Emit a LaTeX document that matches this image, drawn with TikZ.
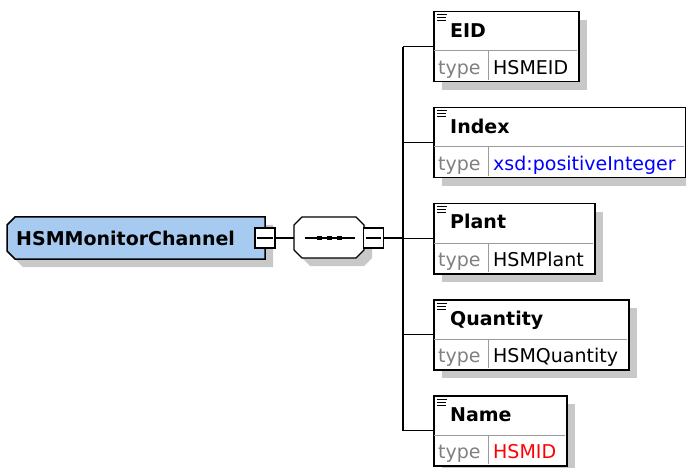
\documentclass[tikz,border=0pt]{standalone}
\usepackage{fontspec}
\setmainfont{DejaVu Sans}
\usetikzlibrary{shadows}
\definecolor{rootblue}{RGB}{166,202,240}
\definecolor{shadowgray}{RGB}{200,200,200}
\definecolor{rulegray}{RGB}{155,155,155}
\definecolor{typegray}{RGB}{128,128,128}
\definecolor{typeblue}{RGB}{0,0,255}
\definecolor{typered}{RGB}{255,0,0}
\tikzset{
  dropsh/.style={drop shadow={shadow xshift=8pt,shadow yshift=-8pt,fill=shadowgray,opacity=1}},
  elembox/.style={draw,line width=1.5pt,fill=white,anchor=north west,minimum height=70pt,inner sep=0pt,dropsh},
  minusbox/.style={draw,line width=1.2pt,fill=white,minimum size=20pt,inner sep=0pt},
  eltext/.style={anchor=base west,inner sep=0pt,font=\fontsize{19}{19}\selectfont\bfseries},
  typetext/.style={anchor=base west,inner sep=0pt,font=\fontsize{19}{19}\selectfont},
  rule/.style={rulegray,line width=1pt},
  conn/.style={line width=1.2pt}
}

\begin{document}
\begin{tikzpicture}[x=1pt,y=-1pt]
  \useasboundingbox (0,0) rectangle (686,468);
  % root element
  \fill [shadowgray] (23,225) -- (273,225) -- (273,267) -- (23,267) -- (15,259) -- (15,233) -- cycle;
  \draw [line width=1.5pt,fill=rootblue] (15,217) -- (265,217) -- (265,259) -- (15,259) -- (7,251) -- (7,225) -- cycle;
  \node (root) [minimum width=258pt,minimum height=42pt,inner sep=0pt] at (136,238) {};
  \node (rootlbl) [eltext] at (16,245) {HSMMonitorChannel};
  \node (rootm) [minusbox] at (265,238) {};
  \draw [conn] ([xshift=3pt]rootm.west) -- ([xshift=-3pt]rootm.east);
  % sequence
  \fill [shadowgray] (310,225) -- (364,225) -- (372,233) -- (372,258) -- (364,266) -- (310,266) -- (302,258) -- (302,233) -- cycle;
  \draw [line width=1.2pt,fill=white] (302,217) -- (356,217) -- (364,225) -- (364,250) -- (356,258) -- (302,258) -- (294,250) -- (294,225) -- cycle;
  \node (seq) [minimum width=70pt,minimum height=41pt,inner sep=0pt] at (329,238) {};
  \draw [conn] ([xshift=11pt]seq.west) -- ([xshift=-9pt]seq.east);
  \fill (317,236) rectangle (322,240);
  \fill (327,236) rectangle (332,240);
  \fill (337,236) rectangle (342,240);
  \node (seqm) [minusbox] at (373.5,238) {};
  \draw [conn] ([xshift=3pt]seqm.west) -- ([xshift=-3pt]seqm.east);
  \draw [conn] (rootm.east) -- (seq.west);
  \coordinate (bar) at (403,238);
  \draw [conn] (seqm.east) -- (bar);
  % EID
  \node (eid) [elembox,minimum width=145pt] at (433,11) {};
  \draw [rule] (434,51) -- (577,51);
  \draw [rule] (488,51) -- (488,80);
  \draw [line width=1pt] (437,15) -- (447,15) (437,18) -- (446,18) (437,21) -- (446,21);
  \node (eidlbl) [eltext] at (450,38) {EID};
  \node (eidkey) [typetext,typegray] at (438,75) {type};
  \node (eidtype) [typetext] at (493,75) {HSMEID};
  % Index
  \node (index) [elembox,minimum width=252pt] at (433,107) {};
  \draw [rule] (434,147) -- (684,147);
  \draw [rule] (488,147) -- (488,176);
  \draw [line width=1pt] (437,111) -- (447,111) (437,114) -- (446,114) (437,117) -- (446,117);
  \node (indexlbl) [eltext] at (450,134) {Index};
  \node (indexkey) [typetext,typegray] at (438,171) {type};
  \node (indextype) [typetext,typeblue] at (493,171) {xsd:positiveInteger};
  % Plant
  \node (plant) [elembox,minimum width=161pt] at (433,203) {};
  \draw [rule] (434,243) -- (593,243);
  \draw [rule] (488,243) -- (488,272);
  \draw [line width=1pt] (437,207) -- (447,207) (437,210) -- (446,210) (437,213) -- (446,213);
  \node (plantlbl) [eltext] at (450,229) {Plant};
  \node (plantkey) [typetext,typegray] at (438,266) {type};
  \node (planttype) [typetext] at (493,266) {HSMPlant};
  % Quantity
  \node (quantity) [elembox,minimum width=195pt] at (433,299) {};
  \draw [rule] (434,339) -- (627,339);
  \draw [rule] (488,339) -- (488,368);
  \draw [line width=1pt] (437,303) -- (447,303) (437,306) -- (446,306) (437,309) -- (446,309);
  \node (quantitylbl) [eltext] at (450,325) {Quantity};
  \node (quantitykey) [typetext,typegray] at (438,362) {type};
  \node (quantitytype) [typetext] at (493,362) {HSMQuantity};
  % Name
  \node (name) [elembox,minimum width=133pt] at (433,395) {};
  \draw [rule] (434,435) -- (565,435);
  \draw [rule] (488,435) -- (488,464);
  \draw [line width=1pt] (437,399) -- (447,399) (437,402) -- (446,402) (437,405) -- (446,405);
  \node (namelbl) [eltext] at (450,421) {Name};
  \node (namekey) [typetext,typegray] at (438,458) {type};
  \node (nametype) [typetext,typered] at (493,458) {HSMID};
  % connectors
  \draw [conn] (bar |- eid.west) -- (bar |- name.west);
  \draw [conn] (bar |- eid.west) -- (eid.west);
  \draw [conn] (bar |- index.west) -- (index.west);
  \draw [conn] (bar |- plant.west) -- (plant.west);
  \draw [conn] (bar |- quantity.west) -- (quantity.west);
  \draw [conn] (bar |- name.west) -- (name.west);
\end{tikzpicture}
\end{document}
